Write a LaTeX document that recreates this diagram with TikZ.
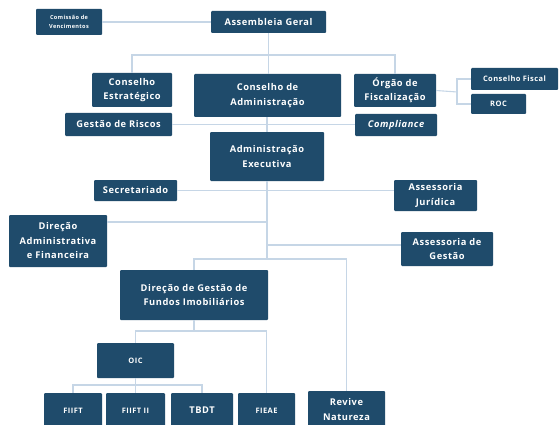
\documentclass[tikz,border=0pt]{standalone}
\usepackage{fontspec}
\setmainfont{Open Sans}[LetterSpace=6]

\definecolor{boxblue}{HTML}{1F4B6B}
\definecolor{linkblue}{HTML}{C6D6E6}

\begin{document}
\begin{tikzpicture}[x=1pt, y=-1pt,
  box/.style={fill=boxblue, text=white, rounded corners=1pt, align=center, inner sep=1pt,
    font=\bfseries\fontsize{9.3}{14.5}\selectfont},
  smallbox/.style={box, font=\bfseries\fontsize{7.5}{10}\selectfont},
  tinybox/.style={box, font=\bfseries\fontsize{5.6}{9}\selectfont},
  link/.style={draw=linkblue, line width=1.1pt}]

\useasboundingbox (0,0) rectangle (559,425);

\node[tinybox, minimum width=66, minimum height=26] (cv) at (69,22) {Comissão de\\Vencimentos};
\node[box, minimum width=115, minimum height=22] (ag) at (268.5,22) {Assembleia Geral};

\node[box, minimum width=80, minimum height=34] (ce) at (132,90) {Conselho\\Estratégico};
\node[box, minimum width=147, minimum height=43] (ca) at (267.5,95.5) {Conselho de\\Administração};
\node[box, minimum width=82, minimum height=33] (of) at (395,90.5) {Órgão de\\Fiscalização};
\node[smallbox, minimum width=87, minimum height=22] (cf) at (514.5,79) {Conselho Fiscal};
\node[smallbox, minimum width=55, minimum height=20] (roc) at (498.5,104) {ROC};
\node[box, minimum width=107, minimum height=23] (gr) at (118.5,124.5) {Gestão de Riscos};
\node[box, minimum width=82, minimum height=22] (comp) at (396,125) {\itshape Compliance};

\node[box, minimum width=114, minimum height=49] (ae) at (267,156.5) {Administração\\Executiva};
\node[box, minimum width=83, minimum height=21] (sec) at (135.5,190.5) {Secretariado};
\node[box, minimum width=83, minimum height=31] (aj) at (435.5,195.5) {Assessoria\\Jurídica};
\node[box, minimum width=98, minimum height=52] (daf) at (58,241) {Direção\\Administrativa\\e Financeira};
\node[box, minimum width=92, minimum height=34] (asg) at (447,249) {Assessoria de\\Gestão};

\node[box, minimum width=148, minimum height=50] (dgf) at (194,295) {Direção de Gestão de\\Fundos Imobiliários};
\node[smallbox, minimum width=77, minimum height=35] (oic) at (135.5,360.5) {OIC};

\node[smallbox, minimum width=58, minimum height=35] (f1) at (73,410.5) {FIIFT};
\node[smallbox, minimum width=59, minimum height=35] (f2) at (135.5,410.5) {FIIFT II};
\node[box, minimum width=62, minimum height=35] (tb) at (202,410.5) {TBDT};
\node[smallbox, minimum width=57, minimum height=35] (fe) at (266.5,410.5) {FIEAE};
\node[box, minimum width=77, minimum height=37] (rn) at (346.5,409.5) {Revive\\Natureza};

\coordinate (b1) at (268.5,55);
\coordinate (b2) at (457,92);
\coordinate (b3) at (267,259);
\coordinate (b4) at (194,331);
\coordinate (b5) at (135.5,385);
\coordinate (d1) at (267,222);
\coordinate (d2) at (267,245);

\draw[link] (cv.east) -- (ag.west);
\draw[link] (ag.south) -- (b1);
\draw[link] (ce.north) |- (b1) -| (of.north);
\draw[link] (b1) -- (b1 |- ca.north);
\draw[link] (of.east) -- (b2);
\draw[link] (cf.west) -| (b2) |- (roc.west);
\draw[link] (gr.east) -- (gr.east -| comp.west);
\draw[link] (ca.south -| ae.north) -- (ae.north);
\draw[link] (ae.south) -- (b3);
\draw[link] (sec.east) -- (sec.east -| aj.west);
\draw[link] (d1) -- (d1 -| daf.east);
\draw[link] (d2) -- (d2 -| asg.west);
\draw[link] (dgf.north) |- (b3) -| (rn.north);
\draw[link] (dgf.south) -- (b4);
\draw[link] (oic.north) |- (b4) -| (fe.north);
\draw[link] (oic.south) -- (f2.north);
\draw[link] (f1.north) |- (b5) -| (tb.north);

\end{tikzpicture}
\end{document}
